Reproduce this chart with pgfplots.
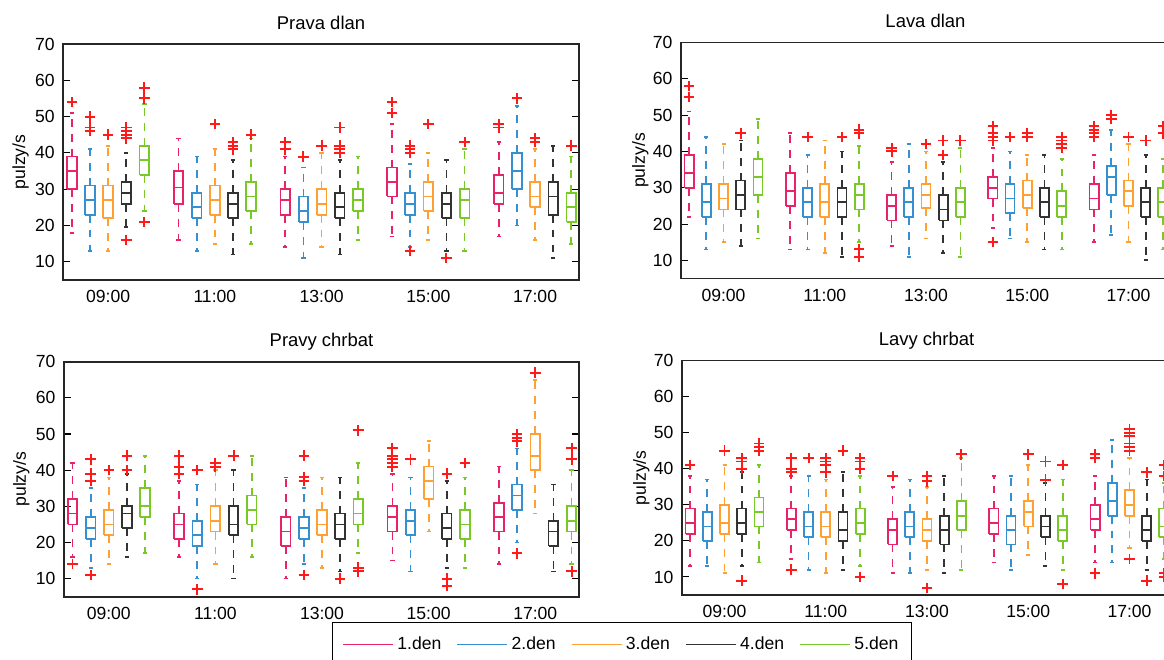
\documentclass[border=0pt]{standalone}
\usepackage{fontspec}
\setmainfont{Liberation Sans}
\usepackage{pgfplots}
\pgfplotsset{compat=1.18}

\definecolor{pinkc}{HTML}{E8236A}
\definecolor{bluec}{HTML}{3690D0}
\definecolor{orangec}{HTML}{FFA033}
\definecolor{blackc}{HTML}{333333}
\definecolor{greenc}{HTML}{78C828}
\definecolor{outred}{HTML}{FF1A1A}

\pgfplotsset{
  boxline/.style={forget plot, solid, line width=1pt, line join=miter, mark=none},
  whisk/.style={forget plot, line width=1pt, dash pattern=on 4.5pt off 4pt, mark=none},
  outl/.style={forget plot, only marks, mark=+, mark size=3pt, draw=outred,
    mark options={draw=outred, solid, line width=1.1pt}},
  panel/.style={
    scale only axis, anchor=south west,
    xmin=0.58, xmax=5.41, ymin=5, ymax=70,
    unbounded coords=jump,
    ytick={10,20,...,70},
    xtick={1,2,3,4,5},
    xticklabels={09:00,11:00,13:00,15:00,17:00},
    tick align=inside, major tick length=4pt,
    xtick style={draw=none},
    ytick style={black, line width=0.6pt},
    axis line style={black!85, line width=1.1pt},
    font=\fontsize{10}{12}\selectfont,
    /pgf/number format/assume math mode=true,
    xticklabel style={yshift=-2.3pt},
    yticklabel style={xshift=-1.4pt},
    ylabel={pulzy/s},
    ylabel style={at={(axis description cs:-0.083,0.5)}, anchor=center, rotate=0},
    title style={at={(0.5,1)}, anchor=base, yshift=2.4pt, font=\fontsize{10.5}{12}\selectfont},
  },
  legend image code/.code={\draw[#1] (0cm,0cm) -- (1.0cm,0cm);},
}

% one box: position, colour, lower whisker, q1, median, q3, upper whisker, outliers
\newcommand{\BoxP}[8]{%
  \pgfmathsetmacro{\xL}{#1-0.045}%
  \pgfmathsetmacro{\xR}{#1+0.045}%
  \pgfmathsetmacro{\cL}{#1-0.02}%
  \pgfmathsetmacro{\cR}{#1+0.02}%
  \edef\BoxPlots{%
    \noexpand\addplot[#2, boxline] coordinates {(\xL,#4) (\xR,#4) (\xR,#6) (\xL,#6) (\xL,#4) (nan,nan)
      (\xL,#5) (\xR,#5) (nan,nan) (\cL,#7) (\cR,#7) (nan,nan) (\cL,#3) (\cR,#3)};%
    \noexpand\addplot[#2, whisk] coordinates {(#1,#6) (#1,#7) (nan,nan) (#1,#4) (#1,#3)};%
  }\BoxPlots
  \addplot[outl, x filter/.expression={#1}] coordinates {#8};%
}

\begin{document}
\begin{tikzpicture}

% ---------------- Prava dlan ----------------
\begin{axis}[panel, at={(1.266cm,7.60cm)}, width=10.31cm, height=4.72cm, title={Prava dlan}]
\BoxP{0.66}{pinkc}{18}{30}{35}{39}{51}{(0,54)}
\BoxP{0.83}{bluec}{13}{23}{27}{31}{41}{(0,50)(0,47)(0,46)}
\BoxP{1.00}{orangec}{13}{22}{27}{31}{42}{(0,45)}
\BoxP{1.17}{blackc}{19.5}{26}{29}{32}{40}{(0,47)(0,46)(0,45)(0,44)(0,16)}
\BoxP{1.34}{greenc}{24}{34}{38}{42}{53.5}{(0,58)(0,55)(0,21)}
\BoxP{1.66}{pinkc}{16}{26}{30.5}{35}{44}{}
\BoxP{1.83}{bluec}{13}{22}{25}{29}{39}{}
\BoxP{2.00}{orangec}{15}{23}{27}{31}{41}{(0,48)}
\BoxP{2.17}{blackc}{12}{22}{26}{29}{38}{(0,43)(0,42)(0,41)}
\BoxP{2.34}{greenc}{15}{24}{28}{32}{44}{(0,45)}
\BoxP{2.66}{pinkc}{14}{23}{27}{30}{39}{(0,43)(0,41)}
\BoxP{2.83}{bluec}{11}{21}{24}{28}{36}{(0,39)}
\BoxP{3.00}{orangec}{14}{23}{26}{30}{40}{(0,42)}
\BoxP{3.17}{blackc}{12}{22}{25}{29}{38}{(0,47)(0,42)(0,41)(0,40)}
\BoxP{3.34}{greenc}{16}{24}{27}{30}{39}{}
\BoxP{3.66}{pinkc}{17}{28}{32}{36}{48}{(0,54)(0,51)}
\BoxP{3.83}{bluec}{14}{23}{26}{29}{37}{(0,42)(0,41)(0,40)(0,13)}
\BoxP{4.00}{orangec}{16}{24}{28}{32}{40}{(0,48)}
\BoxP{4.17}{blackc}{13}{22}{26}{29}{38}{(0,11)}
\BoxP{4.34}{greenc}{13}{22}{27}{30}{41}{(0,43)}
\BoxP{4.66}{pinkc}{17}{26}{29}{34}{43}{(0,48)(0,47)}
\BoxP{4.83}{bluec}{20}{30}{35}{40}{53}{(0,55)}
\BoxP{5.00}{orangec}{16}{25}{28}{32}{41}{(0,44)(0,43)}
\BoxP{5.17}{blackc}{11}{23}{28}{32}{42}{}
\BoxP{5.34}{greenc}{15}{21}{25}{29}{39}{(0,42)}
\end{axis}

% ---------------- Lava dlan ----------------
\begin{axis}[panel, at={(13.62cm,7.63cm)}, width=9.78cm, height=4.72cm, title={Lava dlan}, ytick pos=left]
\BoxP{0.66}{pinkc}{22}{30}{34}{39}{51}{(0,58)(0,55)}
\BoxP{0.83}{bluec}{13}{22}{26}{31}{44}{}
\BoxP{1.00}{orangec}{15}{24}{27}{31}{42}{}
\BoxP{1.17}{blackc}{14}{24}{28}{32}{43}{(0,45)}
\BoxP{1.34}{greenc}{16}{28}{33}{38}{49}{}
\BoxP{1.66}{pinkc}{13}{25}{29}{34}{45}{}
\BoxP{1.83}{bluec}{13}{22}{26}{30}{39}{(0,44)}
\BoxP{2.00}{orangec}{12}{22}{26}{31}{43}{}
\BoxP{2.17}{blackc}{11}{22}{26}{30}{40}{(0,44)}
\BoxP{2.34}{greenc}{15}{24}{28}{31}{41.5}{(0,46)(0,45)(0,13)(0,11)}
\BoxP{2.66}{pinkc}{14}{21}{25}{28}{37}{(0,41)(0,40)}
\BoxP{2.83}{bluec}{11}{22}{26}{30}{42}{}
\BoxP{3.00}{orangec}{16}{24.5}{28}{31}{40}{(0,42)}
\BoxP{3.17}{blackc}{12}{21}{24}{28}{37}{(0,43)(0,39)}
\BoxP{3.34}{greenc}{11}{22}{26}{30}{41}{(0,43)}
\BoxP{3.66}{pinkc}{19}{27}{30}{33}{41}{(0,47)(0,45)(0,44)(0,43)(0,15)}
\BoxP{3.83}{bluec}{16}{23}{27}{31}{40}{(0,44)}
\BoxP{4.00}{orangec}{15}{24.5}{28}{32}{39}{(0,45)(0,44)}
\BoxP{4.17}{blackc}{13}{22}{26}{30}{39}{}
\BoxP{4.34}{greenc}{13}{22}{25}{29}{38}{(0,44)(0,43)(0,42)(0,41)}
\BoxP{4.66}{pinkc}{15}{24}{27}{31}{39}{(0,47)(0,46)(0,45)(0,44)}
\BoxP{4.83}{bluec}{17}{28}{33}{36}{46}{(0,50)(0,49)}
\BoxP{5.00}{orangec}{15}{25}{29}{32}{42}{(0,44)}
\BoxP{5.17}{blackc}{10}{22}{26}{30}{39}{(0,43)}
\BoxP{5.34}{greenc}{13}{22}{26}{30}{38}{(0,47)(0,45)}
\end{axis}

% ---------------- Pravy chrbat ----------------
\begin{axis}[panel, at={(1.28cm,1.266cm)}, width=10.30cm, height=4.70cm, title={Pravy chrbat},
  legend columns=5,
  legend style={at={(axis description cs:0.520,-0.108)}, anchor=north west,
    draw=black, line width=0.8pt, fill=white,
    font=\fontsize{10}{12}\selectfont, inner xsep=5.5pt, inner ysep=6pt,
    /tikz/every even column/.append style={column sep=0.23cm}},
  legend cell align=left]
\addlegendimage{pinkc, line width=1pt}\addlegendentry{1.den}
\addlegendimage{bluec, line width=1pt}\addlegendentry{2.den}
\addlegendimage{orangec, line width=1pt}\addlegendentry{3.den}
\addlegendimage{blackc, line width=1pt}\addlegendentry{4.den}
\addlegendimage{greenc, line width=1pt}\addlegendentry{5.den}
\BoxP{0.66}{pinkc}{16}{25}{28}{32}{42}{(0,14)}
\BoxP{0.83}{bluec}{13}{21}{24}{27}{35}{(0,43)(0,39)(0,37)(0,11)}
\BoxP{1.00}{orangec}{14}{22}{25}{29}{38}{(0,40)}
\BoxP{1.17}{blackc}{16}{24}{28}{30}{39}{(0,44)(0,40)}
\BoxP{1.34}{greenc}{17}{27}{30}{35}{44}{}
\BoxP{1.66}{pinkc}{16}{21}{25}{28}{37}{(0,44)(0,41)(0,39)}
\BoxP{1.83}{bluec}{10}{19}{22}{26}{36}{(0,40)(0,7)}
\BoxP{2.00}{orangec}{14}{23}{26}{30}{40}{(0,42)(0,41)}
\BoxP{2.17}{blackc}{10}{22}{25}{30}{40}{(0,44)}
\BoxP{2.34}{greenc}{16}{25}{29}{33}{44}{}
\BoxP{2.66}{pinkc}{10}{19}{23}{27}{38}{}
\BoxP{2.83}{bluec}{14}{21}{24}{27}{35}{(0,44)(0,38)(0,37)(0,11)}
\BoxP{3.00}{orangec}{13}{22}{25}{29}{38}{}
\BoxP{3.17}{blackc}{12}{21}{25}{28}{38}{(0,10)}
\BoxP{3.34}{greenc}{17}{25}{28}{32}{42}{(0,51)(0,13)(0,12)}
\BoxP{3.66}{pinkc}{15}{23}{27}{30}{39}{(0,46)(0,44)(0,43)(0,42)(0,41)}
\BoxP{3.83}{bluec}{12}{22}{26}{29}{38}{(0,43)}
\BoxP{4.00}{orangec}{23}{32}{37}{41}{48}{}
\BoxP{4.17}{blackc}{13}{21}{24}{28}{37}{(0,39)(0,10)(0,8)}
\BoxP{4.34}{greenc}{13}{21}{25}{29}{38}{(0,42)}
\BoxP{4.66}{pinkc}{14}{23}{27}{31}{41}{}
\BoxP{4.83}{bluec}{20}{29}{33}{36}{46}{(0,50)(0,49)(0,48)(0,17)}
\BoxP{5.00}{orangec}{28}{40}{44}{50}{65}{(0,67)}
\BoxP{5.17}{blackc}{12}{19}{23}{26}{36}{}
\BoxP{5.34}{greenc}{14}{23}{26}{30}{40}{(0,46)(0,43)(0,12)}
\end{axis}

% ---------------- Lavy chrbat ----------------
\begin{axis}[panel, at={(13.64cm,1.30cm)}, width=9.78cm, height=4.69cm, title={Lavy chrbat}, ytick pos=left]
\BoxP{0.66}{pinkc}{13}{22}{25}{29}{38}{(0,41)}
\BoxP{0.83}{bluec}{13}{20}{24}{28}{37}{}
\BoxP{1.00}{orangec}{11}{22}{25}{30}{41}{(0,45)}
\BoxP{1.17}{blackc}{13}{22}{25}{29}{39}{(0,43)(0,42)(0,40)(0,9)}
\BoxP{1.34}{greenc}{14}{24}{28}{32}{41}{(0,47)(0,46)(0,45)}
\BoxP{1.66}{pinkc}{15}{23}{26}{29}{38}{(0,43)(0,40)(0,39)(0,12)}
\BoxP{1.83}{bluec}{12}{21}{24}{28}{38}{(0,43)}
\BoxP{2.00}{orangec}{11}{21}{24}{28}{37}{(0,43)(0,42)(0,41)(0,39)}
\BoxP{2.17}{blackc}{12}{20}{23}{28}{39}{(0,45)}
\BoxP{2.34}{greenc}{13}{22}{25}{29}{38}{(0,43)(0,42)(0,40)(0,10)}
\BoxP{2.66}{pinkc}{11}{19}{23}{26}{35}{(0,38)}
\BoxP{2.83}{bluec}{11}{21}{24}{28}{37}{}
\BoxP{3.00}{orangec}{12}{20}{23}{26}{35}{(0,38)(0,36.5)(0,7)}
\BoxP{3.17}{blackc}{11}{19}{23}{27}{38}{}
\BoxP{3.34}{greenc}{12}{23}{27}{31}{43}{(0,44)}
\BoxP{3.66}{pinkc}{14}{22}{25}{29}{38}{}
\BoxP{3.83}{bluec}{12}{19}{23}{27}{38}{}
\BoxP{4.00}{orangec}{16}{24}{28}{31}{41}{(0,44)}
\BoxP{4.17}{blackc}{13}{21}{24}{27}{36}{(0,42)(0,37)}
\BoxP{4.34}{greenc}{12}{20}{23}{27}{37}{(0,41)(0,8)}
\BoxP{4.66}{pinkc}{14}{23}{26}{30}{38}{(0,44)(0,43)(0,11)}
\BoxP{4.83}{bluec}{14}{27}{31}{36}{48}{}
\BoxP{5.00}{orangec}{18}{27}{30}{34}{43}{(0,51)(0,50)(0,49)(0,47)(0,46)(0,45)(0,15)}
\BoxP{5.17}{blackc}{12}{20}{23}{27}{37}{(0,39)(0,9)}
\BoxP{5.34}{greenc}{15}{21}{24}{29}{36}{(0,41)(0,38)(0,11)(0,10)}
\end{axis}

\pgfresetboundingbox
\useasboundingbox (0,0) rectangle (23.28cm,13.2cm);
\end{tikzpicture}
\end{document}
